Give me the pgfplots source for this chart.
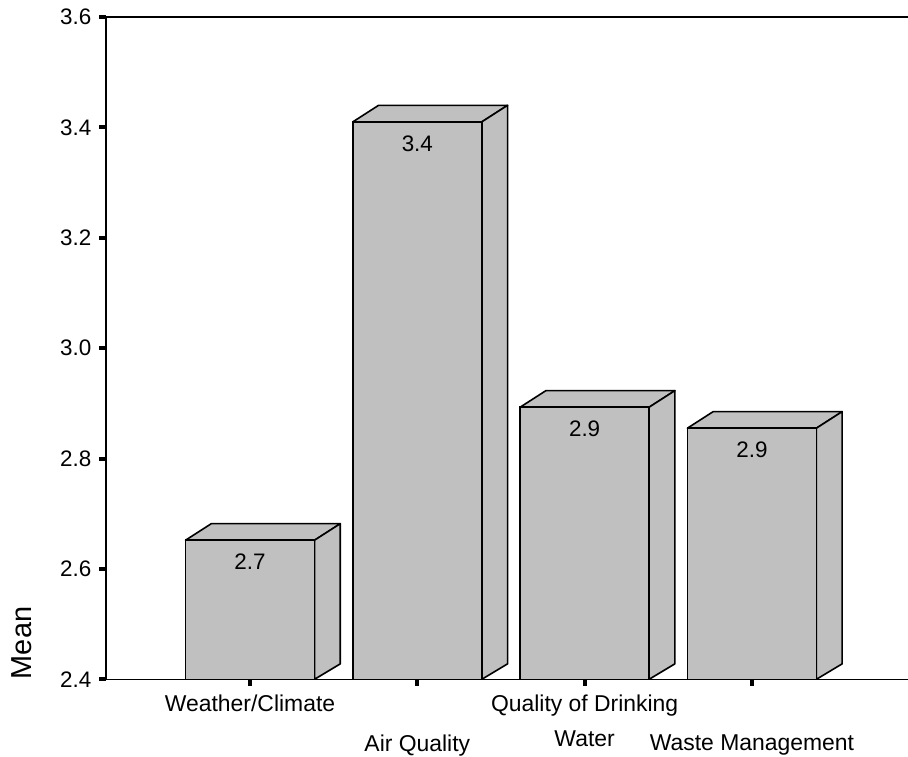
\documentclass[border=0pt]{standalone}
\usepackage{pgfplots}
\pgfplotsset{compat=1.18}
\usepackage{pgfplotstable}
\usepackage{fontspec}
\setmainfont{Liberation Sans}
\definecolor{barfill}{RGB}{192,192,192}

% category position, mean
\pgfplotstableread{
x y
1 2.652
2 3.410
3 2.893
4 2.855
}\meantable

\begin{document}
\begin{tikzpicture}
\begin{axis}[
  scale only axis, width=802bp, height=662.3bp,
  xmin=0.139, xmax=4.933, ymin=2.4, ymax=3.6,
  axis x line*=box, axis y line*=left,
  axis on top,
  axis line style={line width=1.6bp, black},
  tick align=outside, major tick length=6.5bp,
  every tick/.append style={line width=4bp, black},
  xtick pos=left, ytick pos=left,
  ytick={2.4,2.6,...,3.61},
  /pgf/number format/fixed, /pgf/number format/fixed zerofill,
  /pgf/number format/precision=1, /pgf/number format/assume math mode=true,
  yticklabel style={font=\fontsize{22.5}{26}\selectfont, inner sep=0pt, anchor=east, xshift=-8bp},
  xtick={1,3},
  xticklabels={Weather/Climate,{Quality of Drinking\\Water}},
  extra x ticks={2,4},
  extra x tick labels={Air Quality,Waste Management},
  extra x tick style={xticklabel style={yshift=-40bp}},
  xticklabel style={font=\fontsize{23}{35}\selectfont, align=center, inner sep=0pt, anchor=north, yshift=-9bp},
  ylabel={Mean},
  ylabel style={font=\fontsize{29}{32}\selectfont, inner sep=0pt, anchor=west,
    at={([xshift=-84bp]rel axis cs:0,0)}},
  barside/.style={fill=barfill, draw=black, line width=1.6bp, line join=round, mark=none},
]
% top and right faces of each bar
\pgfplotsinvokeforeach{0,...,3}{
  \pgfplotstablegetelem{#1}{x}\of\meantable \let\bx\pgfplotsretval
  \pgfplotstablegetelem{#1}{y}\of\meantable \let\by\pgfplotsretval
  \pgfmathsetmacro\xl{\bx-0.3855}
  \pgfmathsetmacro\xr{\bx+0.3855}
  \pgfmathsetmacro\xlb{\xl+0.154}
  \pgfmathsetmacro\xrb{\xr+0.154}
  \pgfmathsetmacro\yt{\by+0.030}
  \pgfmathsetmacro\ybb{2.4+0.028}
  \edef\faces{%
    \noexpand\addplot[barside] coordinates {(\xl,\by) (\xlb,\yt) (\xrb,\yt) (\xr,\by)} -- cycle;
    \noexpand\addplot[barside] coordinates {(\xr,2.4) (\xr,\by) (\xrb,\yt) (\xrb,\ybb)} -- cycle;
  }\faces
}
% front faces with the rounded means
\addplot[ybar, bar width=0.771, fill=barfill, draw=black, line width=1.6bp,
  nodes near coords, nodes near coords align=below,
  every node near coord/.append style={font=\fontsize{22.5}{26}\selectfont,
    inner sep=0pt, yshift=-12.7bp, black}]
  table {\meantable};
\coordinate (bl) at (rel axis cs:0,0);
\coordinate (tr) at (rel axis cs:1,1);
\end{axis}
\pgfresetboundingbox
\path ([shift={(-106bp,-77.7bp)}]bl) rectangle ([shift={(0bp,17bp)}]tr);
\end{tikzpicture}
\end{document}
